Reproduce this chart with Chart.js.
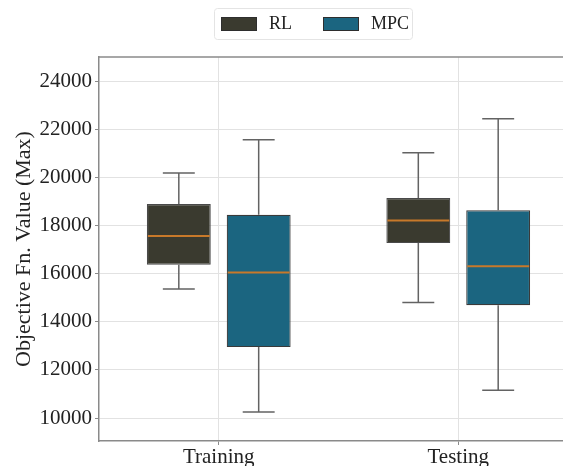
<!DOCTYPE html>
<html>
<head>
<meta charset="utf-8">
<script src="https://cdn.jsdelivr.net/npm/chart.js@4/dist/chart.umd.min.js"></script>
<style>
  html, body { margin: 0; padding: 0; background: #fff; overflow: hidden; }
  #wrap { position: relative; width: 578px; height: 466px; }
</style>
</head>
<body>
<div id="wrap"><canvas id="boxChart"></canvas></div>
<script>
// categories and box stats
const categories = ['Training', 'Testing'];
const seriesNames = ['RL', 'MPC'];

const rlMin = [15360, 14800];
const rlQ1 = [16370, 17270];
const rlMed = [17560, 18210];
const rlQ3 = [18890, 19140];
const rlMax = [20180, 21020];

const mpcMin = [10250, 11160];
const mpcQ1 = [12950, 14690];
const mpcMed = [16050, 16310];
const mpcQ3 = [18450, 18630];
const mpcMax = [21560, 22430];

const yTicks = [10000, 12000, 14000, 16000, 18000, 20000, 22000, 24000];

const colors = ['#3a3a2f', '#1b6580'];
const serif = "'Liberation Serif', 'DejaVu Serif', serif";

// stats per dataset, used for whiskers and medians
const stats = [
    { min: rlMin, med: rlMed, max: rlMax },
    { min: mpcMin, med: mpcMed, max: mpcMax }
];

// whiskers, caps, medians, top border, legend
const boxExtras = {
    id: 'boxExtras',
    afterDatasetsDraw(chart) {
        const ctx = chart.ctx;
        const y = chart.scales.y;
        ctx.save();
        chart.data.datasets.forEach((ds, di) => {
            const meta = chart.getDatasetMeta(di);
            const s = stats[di];
            meta.data.forEach((bar, i) => {
                const x = bar.x;
                const half = bar.width / 2;
                const q1 = ds.data[i][0], q3 = ds.data[i][1];
                ctx.strokeStyle = '#636363';
                ctx.lineWidth = 1.5;
                ctx.beginPath();
                ctx.moveTo(x, y.getPixelForValue(q3));
                ctx.lineTo(x, y.getPixelForValue(s.max[i]));
                ctx.moveTo(x, y.getPixelForValue(q1));
                ctx.lineTo(x, y.getPixelForValue(s.min[i]));
                ctx.moveTo(x - half / 2, y.getPixelForValue(s.max[i]));
                ctx.lineTo(x + half / 2, y.getPixelForValue(s.max[i]));
                ctx.moveTo(x - half / 2, y.getPixelForValue(s.min[i]));
                ctx.lineTo(x + half / 2, y.getPixelForValue(s.min[i]));
                ctx.stroke();
                // median
                ctx.strokeStyle = '#c8792a';
                ctx.lineWidth = 2;
                ctx.beginPath();
                ctx.moveTo(x - half + 1, y.getPixelForValue(s.med[i]));
                ctx.lineTo(x + half - 1, y.getPixelForValue(s.med[i]));
                ctx.stroke();
            });
        });

        // top spine
        const a = chart.chartArea;
        ctx.strokeStyle = '#8a8a8a';
        ctx.lineWidth = 1.5;
        ctx.beginPath();
        ctx.moveTo(a.left, a.top);
        ctx.lineTo(a.right, a.top);
        ctx.stroke();

        // legend
        const lx = 214, ly = 8, lw = 198, lh = 31;
        ctx.strokeStyle = '#e4e4e4';
        ctx.lineWidth = 1;
        ctx.beginPath();
        ctx.roundRect(lx + 0.5, ly + 0.5, lw, lh, 3);
        ctx.stroke();
        const items = [
            { sx: 221, tx: 269 },
            { sx: 323, tx: 371 }
        ];
        ctx.font = '18px ' + serif;
        ctx.textBaseline = 'middle';
        ctx.textAlign = 'left';
        seriesNames.forEach((name, k) => {
            ctx.fillStyle = colors[k];
            ctx.fillRect(items[k].sx, 17, 35, 13);
            ctx.strokeStyle = '#2e2e2e';
            ctx.lineWidth = 1;
            ctx.strokeRect(items[k].sx + 0.5, 17.5, 35, 13);
            ctx.fillStyle = '#222';
            ctx.fillText(name, items[k].tx, 24);
        });
        ctx.restore();
    }
};

const ctx = document.getElementById('boxChart').getContext('2d');

new Chart(ctx, {
    type: 'bar',
    data: {
        labels: categories,
        datasets: [
            {
                label: seriesNames[0],
                data: rlQ1.map((v, i) => [v, rlQ3[i]]),
                backgroundColor: colors[0],
                borderColor: '#4a4a4a',
                borderWidth: 1.2,
                borderSkipped: false
            },
            {
                label: seriesNames[1],
                data: mpcQ1.map((v, i) => [v, mpcQ3[i]]),
                backgroundColor: colors[1],
                borderColor: '#3a3a3a',
                borderWidth: 1.2,
                borderSkipped: false
            }
        ]
    },
    options: {
        responsive: true,
        maintainAspectRatio: false,
        animation: false,
        categoryPercentage: 0.667,
        barPercentage: 0.8,
        layout: { padding: { top: 57, left: 0, right: 0, bottom: 0 } },
        plugins: {
            legend: { display: false },
            tooltip: { enabled: false }
        },
        scales: {
            x: {
                offset: true,
                grid: {
                    offset: false,
                    color: '#e2e2e2',
                    tickColor: '#8a8a8a',
                    tickLength: 4,
                    lineWidth: 1
                },
                border: { color: '#8a8a8a', width: 1.5 },
                ticks: {
                    color: '#222',
                    padding: 0,
                    font: { family: serif, size: 21 }
                },
                afterFit(scale) { scale.height = 25; }
            },
            y: {
                min: 9050,
                max: 25000,
                afterBuildTicks(scale) {
                    scale.ticks = yTicks.map(v => ({ value: v }));
                },
                grid: {
                    color: '#e2e2e2',
                    tickColor: '#8a8a8a',
                    tickLength: 4,
                    lineWidth: 1
                },
                border: { color: '#8a8a8a', width: 1.5 },
                ticks: {
                    color: '#222',
                    padding: 3,
                    font: { family: serif, size: 21 },
                    callback: v => String(v)
                },
                title: {
                    display: true,
                    text: 'Objective Fn. Value (Max)',
                    color: '#222',
                    font: { family: serif, size: 22 },
                    padding: { top: 11, bottom: 0 }
                },
                afterFit(scale) { scale.width = 99; }
            }
        }
    },
    plugins: [boxExtras]
});
</script>
</body>
</html>
